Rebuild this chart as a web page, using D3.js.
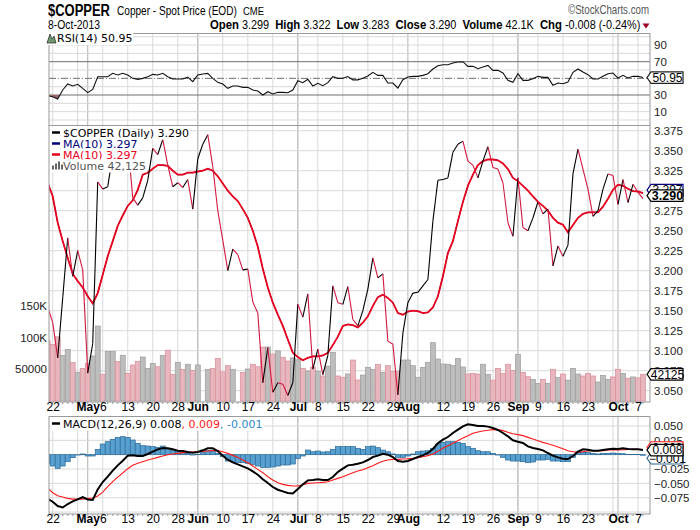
<!DOCTYPE html>
<html>
<head>
<meta charset="utf-8">
<script src="https://cdn.jsdelivr.net/npm/d3@7"></script>
<style>
  body { margin: 0; background: #fff; }
  svg { display: block; }
</style>
</head>
<body>
<div id="wrapper"></div>
<script>
// trading days (first one, 19 Apr, sits just left of the plot)
const dates = [
  "04-19","04-22","04-23","04-24","04-25","04-26","04-29","04-30",
  "05-01","05-02","05-03","05-06","05-07","05-08","05-09","05-10","05-13","05-14","05-15","05-16","05-17",
  "05-20","05-21","05-22","05-23","05-24","05-28","05-29","05-30","05-31",
  "06-03","06-04","06-05","06-06","06-07","06-10","06-11","06-12","06-13","06-14",
  "06-17","06-18","06-19","06-20","06-21","06-24","06-25","06-26","06-27","06-28",
  "07-01","07-02","07-03","07-05","07-08","07-09","07-10","07-11","07-12","07-15","07-16","07-17","07-18","07-19",
  "07-22","07-23","07-24","07-25","07-26","07-29","07-30","07-31",
  "08-01","08-02","08-05","08-06","08-07","08-08","08-09","08-12","08-13","08-14","08-15","08-16",
  "08-19","08-20","08-21","08-22","08-23","08-26","08-27","08-28","08-29","08-30",
  "09-03","09-04","09-05","09-06","09-09","09-10","09-11","09-12","09-13","09-16","09-17","09-18","09-19","09-20",
  "09-23","09-24","09-25","09-26","09-27","09-30",
  "10-01","10-02","10-03","10-04","10-07","10-08"
]

const closes = [
  3.155, 3.135, 3.091, 3.166, 3.241, 3.193, 3.225, 3.201, 3.072, 3.109,
  3.311, 3.302, 3.305, 3.345, 3.335, 3.376, 3.362, 3.291, 3.282, 3.291,
  3.313, 3.353, 3.345, 3.364, 3.332, 3.305, 3.310, 3.304, 3.314, 3.277,
  3.340, 3.358, 3.370, 3.330, 3.275, 3.238, 3.200, 3.227, 3.220, 3.201,
  3.202, 3.161, 3.147, 3.060, 3.104, 3.048, 3.060, 3.058, 3.044, 3.060,
  3.158, 3.142, 3.171, 3.077, 3.102, 3.070, 3.094, 3.181, 3.160, 3.158,
  3.180, 3.139, 3.131, 3.150, 3.177, 3.216, 3.191, 3.196, 3.112, 3.108,
  3.045, 3.122, 3.160, 3.172, 3.173, 3.181, 3.189, 3.262, 3.313, 3.314,
  3.316, 3.348, 3.358, 3.362, 3.337, 3.332, 3.316, 3.337, 3.355, 3.329,
  3.327, 3.310, 3.260, 3.243, 3.316, 3.254, 3.250, 3.266, 3.286, 3.271,
  3.277, 3.206, 3.231, 3.218, 3.232, 3.321, 3.352, 3.327, 3.302, 3.268,
  3.275, 3.302, 3.321, 3.319, 3.283, 3.314, 3.285, 3.308, 3.298, 3.290
]

const ma10 = [
  3.310, 3.293, 3.260, 3.237, 3.216, 3.196, 3.187, 3.179, 3.168, 3.159,
  3.172, 3.195, 3.218, 3.237, 3.256, 3.269, 3.281, 3.288, 3.301, 3.320,
  3.3225, 3.3275, 3.332, 3.332, 3.331, 3.325, 3.320, 3.320, 3.3225, 3.3225,
  3.324, 3.325, 3.3275, 3.325, 3.318, 3.309, 3.300, 3.293, 3.287, 3.277,
  3.266, 3.250, 3.230, 3.2025, 3.179, 3.160, 3.145, 3.131, 3.114, 3.0975,
  3.092, 3.088, 3.091, 3.093, 3.093, 3.094, 3.0975, 3.107, 3.1175, 3.131,
  3.133, 3.132, 3.129, 3.135, 3.143, 3.156, 3.167, 3.170, 3.166, 3.160,
  3.147, 3.145, 3.149, 3.150, 3.1495, 3.147, 3.148, 3.154, 3.168, 3.193,
  3.222, 3.237, 3.262, 3.286, 3.306, 3.320, 3.332, 3.337, 3.339, 3.339,
  3.338, 3.334, 3.327, 3.316, 3.312, 3.306, 3.300, 3.293, 3.286, 3.281,
  3.275, 3.266, 3.260, 3.2575, 3.248, 3.257, 3.266, 3.271, 3.273, 3.273,
  3.273, 3.280, 3.290, 3.301, 3.3075, 3.306, 3.3025, 3.2995, 3.299, 3.297
]

const volumes = [
  95000, 89000, 101000, 72000, 81500, 60500, 44700, 51500, 59400, 71000,
  118000, 42000, 78000, 78000, 62000, 72000, 43700, 56800, 62600, 69300,
  51500, 59400, 54000, 72000, 80000, 42000, 61000, 50000, 58000, 48400,
  56800, 0, 50000, 51500, 67000, 45800, 55700, 50000, 0, 45000,
  50500, 58000, 54000, 85000, 85000, 74000, 79000, 69000, 63000, 68000,
  65000, 51500, 47300, 53400, 47000, 39500, 55000, 76700, 39500, 37400,
  42700, 64600, 33200, 41000, 53000, 50000, 57800, 45300, 55700, 46300,
  46300, 64600, 64600, 55700, 37400, 53000, 61000, 91900, 66200, 58300,
  58000, 56000, 67000, 53600, 42600, 43700, 42600, 58000, 42000, 33000,
  51500, 43700, 58000, 48400, 73500, 45200, 38400, 34200, 28000, 34200,
  28000, 50000, 37400, 42600, 33000, 51500, 42600, 39500, 43700, 39500,
  30000, 40500, 34200, 38000, 50000, 43700, 36000, 38000, 36500, 42125
]

const rsi14 = [
  29, 28, 25.2, 36, 43.2, 40.8, 42.8, 38, 32.8, 36.8,
  52, 52, 52, 56, 54, 56, 54, 50, 48.8, 50,
  52, 54.8, 54, 56, 52, 49.2, 49.2, 49.2, 51.6, 46,
  54, 55.2, 56, 50, 45.2, 43.2, 38, 40.8, 40.8, 39.2,
  39.2, 36, 34.8, 30, 34, 31.2, 33.2, 33.2, 32.8, 36,
  47.2, 44.8, 48.8, 40.8, 44, 41.2, 44.8, 52, 50, 50.2,
  52.2, 48.2, 48.2, 50, 52.8, 57.2, 53.6, 53.6, 44.4, 44.4,
  38.4, 48.4, 51.6, 52.4, 52.4, 53.6, 55.6, 61.2, 65.2, 66.4,
  66.4, 68.4, 69.6, 70, 64.4, 64.4, 61.6, 63.6, 65.6, 59.6,
  59.6, 56.4, 47.6, 45.2, 55.6, 47.6, 47.6, 49.6, 52.4, 51.2,
  51.2, 41.6, 44.4, 43.6, 45.6, 57.2, 61.2, 57.6, 54.4, 49.2,
  49.2, 52.4, 55.6, 56.4, 50.4, 53.6, 50.4, 52.4, 52.4, 50.95
]

const macdLine = [
  -0.077, -0.082, -0.0896, -0.092, -0.086, -0.0814, -0.078, -0.0739, -0.078, -0.079,
  -0.0605, -0.0477, -0.0384, -0.0279, -0.0186, -0.0105, -0.0017, -0.0012, -0.0023, -0.0023,
  0.0012, 0.0052, 0.0093, 0.0116, 0.0111, 0.0093, 0.0070, 0.0064, 0.0047, 0.0035,
  0.0047, 0.0076, 0.0111, 0.0111, 0.0064, -0.0017, -0.0087, -0.0134, -0.0169, -0.0204,
  -0.0239, -0.0291, -0.0349, -0.0430, -0.0494, -0.0564, -0.0611, -0.0640, -0.0669, -0.0675,
  -0.0599, -0.0518, -0.0448, -0.0442, -0.0430, -0.0442, -0.0442, -0.0390, -0.0302, -0.0244,
  -0.0186, -0.0175, -0.0157, -0.0134, -0.0093, -0.0041, -0.0017, 0.0017, 0, -0.0041,
  -0.0111, -0.0122, -0.0111, -0.0076, -0.0041, -0.0012, 0.0029, 0.0099, 0.0198, 0.0262,
  0.0308, 0.0378, 0.0436, 0.0494, 0.0529, 0.0518, 0.0500, 0.0500, 0.0489, 0.0465,
  0.0430, 0.0378, 0.0320, 0.0250, 0.0227, 0.0204, 0.0145, 0.0116, 0.0099, 0.0076,
  0.0029, -0.0017, -0.0047, -0.0070, -0.0076, -0.0023, 0.0052, 0.0093, 0.0087, 0.0070,
  0.0070, 0.0081, 0.0093, 0.0105, 0.0099, 0.0111, 0.0099, 0.0093, 0.0093, 0.008
]

const macdSignal = [
  -0.058, -0.0663, -0.0716, -0.0739, -0.0762, -0.0774, -0.0774, -0.0774, -0.0762, -0.0756,
  -0.0721, -0.0652, -0.0558, -0.0471, -0.0390, -0.0320, -0.0244, -0.0186, -0.0151, -0.0122,
  -0.0093, -0.0070, -0.0047, -0.0023, 0, 0.0012, 0.0023, 0.0035, 0.0041, 0.0047,
  0.0052, 0.0058, 0.0064, 0.0070, 0.0070, 0.0052, 0.0023, -0.0012, -0.0047, -0.0093,
  -0.0140, -0.0198, -0.0256, -0.0314, -0.0384, -0.0442, -0.0489, -0.0518, -0.0535, -0.0547,
  -0.0547, -0.0524, -0.0500, -0.0494, -0.0489, -0.0483, -0.0471, -0.0442, -0.0413, -0.0384,
  -0.0350, -0.0314, -0.0285, -0.0262, -0.0227, -0.0192, -0.0151, -0.0116, -0.0093, -0.0081,
  -0.0081, -0.0076, -0.0070, -0.0064, -0.0052, -0.0035, -0.0017, 0.0012, 0.0058, 0.0111,
  0.0157, 0.0198, 0.0244, 0.0291, 0.0332, 0.0372, 0.0396, 0.0413, 0.0425, 0.0436,
  0.0436, 0.0419, 0.0390, 0.0366, 0.0349, 0.0332, 0.0302, 0.0273, 0.0244, 0.0215,
  0.0192, 0.0163, 0.0134, 0.0105, 0.0070, 0.0052, 0.0041, 0.0052, 0.0064, 0.0070,
  0.0070, 0.0070, 0.0081, 0.0081, 0.0081, 0.0087, 0.0093, 0.0093, 0.0093, 0.009
]

const macdHist = [
  -0.016, -0.0198, -0.0239, -0.0198, -0.0122, -0.0052, -0.0006, 0.0012, -0.0023, -0.0023,
  0.0093, 0.0186, 0.0227, 0.0268, 0.0302, 0.0314, 0.0302, 0.0256, 0.0198, 0.0157,
  0.0151, 0.0140, 0.0128, 0.0151, 0.0111, 0.0070, 0.0064, 0.0035, 0.0023, -0.0006,
  0.0006, 0.0035, 0.0070, 0.0070, 0.0023, -0.0035, -0.0111, -0.0122, -0.0134, -0.0140,
  -0.0151, -0.0169, -0.0198, -0.0221, -0.0221, -0.0215, -0.0198, -0.0180, -0.0180, -0.0163,
  -0.0070, -0.0023, 0.0081, 0.0052, 0.0064, 0.0047, 0.0052, 0.0093, 0.0140, 0.0140,
  0.0140, 0.0140, 0.0111, 0.0093, 0.0140, 0.0151, 0.0122, 0.0081, 0.0052, 0.0012,
  -0.0047, -0.0047, -0.0023, 0.0012, 0.0052, 0.0064, 0.0070, 0.0111, 0.0186, 0.0215,
  0.0227, 0.0227, 0.0215, 0.0198, 0.0140, 0.0111, 0.0070, 0.0052, 0.0052, 0.0023,
  -0.0006, -0.0047, -0.0093, -0.0111, -0.0111, -0.0122, -0.0140, -0.0128, -0.0093, -0.0093,
  -0.0081, -0.0111, -0.0111, -0.0122, -0.0122, -0.0047, 0.0047, 0.0041, 0.0041, 0.0023,
  0.0012, 0.0023, 0.0023, 0.0029, 0.0023, 0.0017, 0.0005, 0.0003, 0.0002, -0.001
]

// x axis labels and grid
const tickDates = ["04-22","05-01","05-06","05-13","05-20","05-28","06-03","06-10","06-17","06-24",
  "07-01","07-08","07-15","07-22","07-29","08-01","08-12","08-19","08-26","09-03","09-09","09-16","09-23","10-01","10-07"]
const tickLabels = ["22","May","6","13","20","28","Jun","10","17","24",
  "Jul","8","15","22","29","Aug","12","19","26","Sep","9","16","23","Oct","7"]
const weekDates = ["04-22","04-29","05-06","05-13","05-20","05-28","06-03","06-10","06-17","06-24",
  "07-01","07-08","07-15","07-22","07-29","08-05","08-12","08-19","08-26","09-03","09-09","09-16","09-23","09-30","10-07"]
const monthDates = ["05-01","06-03","07-01","08-01","09-03","10-01"]

// y axis labels
const priceTicks = [3.050, 3.075, 3.100, 3.125, 3.150, 3.175, 3.200, 3.225, 3.250, 3.275, 3.300, 3.325, 3.350, 3.375]
const rsiTicks = [90, 70, 30, 10]
const rsiGrid = [0, 10, 20, 30, 40, 50, 60, 70, 80, 90, 100]
const volumeTicks = [50000, 100000, 150000]
const volumeLabels = ["50000", "100K", "150K"]
const macdTicks = [0.050, 0.025, 0, -0.025, -0.050, -0.075]
const macdGrid = [0.050, 0.025, 0, -0.025, -0.050, -0.075, -0.100]

drawChart()

function drawChart() {
  const dimensions = {
    width: 700,
    height: 530,
    left: 49,
    right: 650,
    rsi: { top: 33.5, bottom: 125.5 },
    main: { top: 125.5, bottom: 402 },
    macd: { top: 416.5, bottom: 514 },
  }
  const legendFont = "'DejaVu Sans', Verdana, sans-serif"
  const axisFont = "'Liberation Sans', Arial, sans-serif"
  const narrowFont = "'Liberation Sans Narrow', 'Arial Narrow', 'Liberation Sans', sans-serif"

  const wrapper = d3.select("#wrapper")
    .append("svg")
      .attr("width", dimensions.width)
      .attr("height", dimensions.height)
      .style("background", "#fff")

  // scales
  const xScale = d3.scalePoint()
    .domain(dates)
    .range([47.7, 643])
  const rsiScale = d3.scaleLinear().domain([0, 100]).range([120, 36.7])
  const priceScale = d3.scaleLinear().domain([3.05, 3.375]).range([390.7, 130.7])
  const volumeScale = d3.scaleLinear().domain([0, 150000]).range([401.1, 305.7])
  const macdScale = d3.scaleLinear().domain([-0.075, 0.05]).range([497.7, 426])

  const defs = wrapper.append("defs")
  const panels = ["rsi", "main", "macd"]
  panels.forEach(p => {
    defs.append("clipPath").attr("id", "clip-" + p)
      .append("rect")
        .attr("x", dimensions.left)
        .attr("y", dimensions[p].top)
        .attr("width", dimensions.right - dimensions.left)
        .attr("height", dimensions[p].bottom - dimensions[p].top)
  })
  defs.append("clipPath").attr("id", "clip-rsi-low")
    .append("rect")
      .attr("x", dimensions.left).attr("y", rsiScale(30))
      .attr("width", dimensions.right - dimensions.left)
      .attr("height", dimensions.rsi.bottom - rsiScale(30))
  defs.append("clipPath").attr("id", "clip-rsi-high")
    .append("rect")
      .attr("x", dimensions.left).attr("y", dimensions.rsi.top)
      .attr("width", dimensions.right - dimensions.left)
      .attr("height", rsiScale(70) - dimensions.rsi.top)

  // header, squeezed horizontally to the narrow face of the original
  const header = wrapper.append("g").style("font-family", narrowFont)
  function headText(x, y, size, weight, width, txt) {
    const g = header.append("g")
    const t = g.append("text")
      .attr("font-size", size).attr("font-weight", weight)
    if (Array.isArray(txt)) {
      txt.forEach(q => {
        t.append("tspan").attr("font-weight", "bold").attr("font-size", size + 0.5).text(q[0])
        t.append("tspan").attr("xml:space", "preserve").text(q[1])
      })
    } else {
      t.text(txt)
    }
    const natural = t.node().getComputedTextLength()
    g.attr("transform", `translate(${x}, ${y}) scale(${width / natural}, 1)`)
    return t
  }
  headText(48, 16, 17, "bold", 62, "$COPPER")
  headText(117, 15, 12.5, "normal", 120, "Copper - Spot Price (EOD)")
  headText(243, 15, 10.5, "normal", 21, "CME")
  headText(568, 14, 12, "normal", 81, "©StockCharts.com").attr("fill", "#555")
  headText(48, 29, 12.5, "normal", 52, "8-Oct-2013")
  const quoteParts = [["Open", " 3.299  "], ["High", " 3.322  "], ["Low", " 3.283  "],
    ["Close", " 3.290  "], ["Volume", " 42.1K  "], ["Chg", " -0.008 (-0.24%)"]]
  headText(210, 29, 12.5, "normal", 431, quoteParts)
  wrapper.append("path")
    .attr("d", "M642.5,23.5 L649.5,23.5 L646,28.5 Z")
    .attr("fill", "#a00028")

  // grids
  panels.forEach(p => {
    const g = wrapper.append("g").attr("clip-path", `url(#clip-${p})`)
    g.selectAll(".week")
      .data(weekDates)
      .enter().append("line")
        .attr("x1", d => xScale(d)).attr("x2", d => xScale(d))
        .attr("y1", dimensions[p].top).attr("y2", dimensions[p].bottom)
        .attr("stroke", "#d9d9d9")
    g.selectAll(".month")
      .data(monthDates)
      .enter().append("line")
        .attr("x1", d => xScale(d)).attr("x2", d => xScale(d))
        .attr("y1", dimensions[p].top).attr("y2", dimensions[p].bottom)
        .attr("stroke", "#b3b3b3")
  })
  wrapper.append("g").selectAll("line")
    .data(rsiGrid)
    .enter().append("line")
      .attr("x1", dimensions.left).attr("x2", dimensions.right)
      .attr("y1", d => rsiScale(d)).attr("y2", d => rsiScale(d))
      .attr("stroke", d => (d === 70 || d === 30) ? "#6e6e6e" : "#d9d9d9")
      .attr("stroke-dasharray", d => d === 50 ? "7,2,1,2" : null)
      .filter(d => d === 50).attr("stroke", "#6e6e6e")
  wrapper.append("g").selectAll("line")
    .data(priceTicks)
    .enter().append("line")
      .attr("x1", dimensions.left).attr("x2", dimensions.right)
      .attr("y1", d => priceScale(d)).attr("y2", d => priceScale(d))
      .attr("stroke", "#d9d9d9")
  wrapper.append("g").selectAll("line")
    .data(macdGrid)
    .enter().append("line")
      .attr("x1", dimensions.left).attr("x2", dimensions.right)
      .attr("y1", d => macdScale(d)).attr("y2", d => macdScale(d))
      .attr("stroke", "#d9d9d9")

  // volume bars
  const isUp = i => i === 0 ? false : closes[i] >= closes[i - 1]
  wrapper.append("g")
    .attr("clip-path", "url(#clip-main)")
    .selectAll("rect")
    .data(volumes)
    .enter().append("rect")
      .attr("x", (d, i) => xScale(dates[i]) - 2.5)
      .attr("width", 5)
      .attr("y", d => volumeScale(d))
      .attr("height", d => volumeScale(0) - volumeScale(d))
      .attr("fill", (d, i) => isUp(i) ? "#bdbdbd" : "#e8b6bd")
      .attr("stroke", (d, i) => isUp(i) ? "#9c9c9c" : "#d98c99")
      .attr("stroke-width", 0.7)
      .attr("opacity", d => d > 0 ? 1 : 0)

  // moving averages (the blue one sits right under the red one)
  const maLine = d3.line()
    .x((d, i) => xScale(dates[i]))
    .y(d => priceScale(d))
  const mainG = wrapper.append("g").attr("clip-path", "url(#clip-main)")
  mainG.append("path").datum(ma10)
    .attr("d", maLine).attr("fill", "none")
    .attr("stroke", "#00007a").attr("stroke-width", 1)
  mainG.append("path").datum(ma10)
    .attr("d", maLine).attr("fill", "none")
    .attr("stroke", "#e8001c").attr("stroke-width", 1.8)

  // price line, black when rising and red when falling
  const segments = d3.pairs(closes.map((c, i) => ({ c, i })))
  mainG.selectAll(".seg")
    .data(segments)
    .enter().append("line")
      .attr("x1", d => xScale(dates[d[0].i]))
      .attr("y1", d => priceScale(d[0].c))
      .attr("x2", d => xScale(dates[d[1].i]))
      .attr("y2", d => priceScale(d[1].c))
      .attr("stroke", d => d[1].c >= d[0].c ? "#000" : "#d3183f")
      .attr("stroke-width", 1.1)

  // RSI
  const rsiG = wrapper.append("g").attr("clip-path", "url(#clip-rsi)")
  const rsiArea30 = d3.area()
    .x((d, i) => xScale(dates[i]))
    .y0(rsiScale(30))
    .y1(d => rsiScale(d))
  const rsiArea70 = d3.area()
    .x((d, i) => xScale(dates[i]))
    .y0(rsiScale(70))
    .y1(d => rsiScale(d))
  rsiG.append("g").attr("clip-path", "url(#clip-rsi-low)")
    .append("path").datum(rsi14)
      .attr("d", rsiArea30).attr("fill", "#9c6868")
  rsiG.append("g").attr("clip-path", "url(#clip-rsi-high)")
    .append("path").datum(rsi14)
      .attr("d", rsiArea70).attr("fill", "#6f9a6f")
  rsiG.append("path").datum(rsi14)
    .attr("d", d3.line().x((d, i) => xScale(dates[i])).y(d => rsiScale(d)))
    .attr("fill", "none").attr("stroke", "#111").attr("stroke-width", 1.1)

  // MACD
  const macdG = wrapper.append("g").attr("clip-path", "url(#clip-macd)")
  macdG.selectAll("rect")
    .data(macdHist)
    .enter().append("rect")
      .attr("x", (d, i) => xScale(dates[i]) - 2.5)
      .attr("width", 5)
      .attr("y", d => macdScale(Math.max(0, d)))
      .attr("height", d => Math.abs(macdScale(d) - macdScale(0)))
      .attr("fill", "#57a0d0")
      .attr("stroke", "#2c6a98")
      .attr("stroke-width", 0.7)
  macdG.append("path").datum(macdSignal)
    .attr("d", d3.line().x((d, i) => xScale(dates[i])).y(d => macdScale(d)))
    .attr("fill", "none").attr("stroke", "#ff1a1a").attr("stroke-width", 1.1)
  macdG.append("path").datum(macdLine)
    .attr("d", d3.line().x((d, i) => xScale(dates[i])).y(d => macdScale(d)))
    .attr("fill", "none").attr("stroke", "#000").attr("stroke-width", 2)

  // panel borders
  panels.forEach(p => {
    wrapper.append("rect")
      .attr("x", dimensions.left).attr("y", dimensions[p].top)
      .attr("width", dimensions.right - dimensions.left)
      .attr("height", dimensions[p].bottom - dimensions[p].top)
      .attr("fill", "none").attr("stroke", "#9a9a9a")
  })

  // small day ticks under the panels
  ;["main", "macd"].forEach(p => {
    wrapper.append("g").selectAll("line")
      .data(dates.slice(1))
      .enter().append("line")
        .attr("x1", d => xScale(d)).attr("x2", d => xScale(d))
        .attr("y1", dimensions[p].bottom).attr("y2", dimensions[p].bottom + 2)
        .attr("stroke", "#9a9a9a")
  })

  // x axes
  ;[{ p: "main", y: 414.5 }, { p: "macd", y: 526.5 }].forEach(a => {
    const axis = wrapper.append("g")
      .attr("transform", `translate(0, ${a.y - 10})`)
      .call(d3.axisBottom(xScale)
        .tickValues(tickDates)
        .tickFormat((d, i) => tickLabels[i])
        .tickSize(0)
        .tickPadding(0))
    axis.select(".domain").remove()
    axis.selectAll(".tick text")
      .attr("dy", "0.55em")
      .attr("font-size", 12)
      .attr("font-family", axisFont)
      .attr("fill", "#000")
      .attr("font-weight", (d, i) => /[A-Za-z]/.test(tickLabels[i]) ? "bold" : "normal")
  })

  // right axes
  const rightAxis = (scale, values, fmt) => {
    const axis = wrapper.append("g")
      .attr("transform", `translate(${dimensions.right + 3}, 0)`)
      .call(d3.axisRight(scale).tickValues(values).tickFormat(fmt).tickSize(0).tickPadding(1))
    axis.select(".domain").remove()
    axis.selectAll(".tick text")
      .attr("font-size", 11.5)
      .attr("font-family", axisFont)
      .attr("fill", "#222")
  }
  rightAxis(priceScale, priceTicks, d3.format(".3f"))
  rightAxis(rsiScale, rsiTicks, d3.format("d"))
  rightAxis(macdScale, macdTicks, d3.format(".3f"))

  // volume labels on the left
  const volAxis = wrapper.append("g")
    .attr("transform", `translate(${dimensions.left - 1}, 0)`)
    .call(d3.axisLeft(volumeScale).tickValues(volumeTicks)
      .tickFormat((d, i) => volumeLabels[i]).tickSize(0).tickPadding(1))
  volAxis.select(".domain").remove()
  volAxis.selectAll(".tick text")
    .attr("font-size", 11.5)
    .attr("font-family", axisFont)
    .attr("fill", "#222")

  // value tags on the right edge
  function tag(y, label, stroke, bold) {
    const h = 11.5
    const g = wrapper.append("g")
    g.append("path")
      .attr("d", `M${dimensions.right - 3},${y} L${dimensions.right + 1},${y - h / 2} L683,${y - h / 2} L683,${y + h / 2} L${dimensions.right + 1},${y + h / 2} Z`)
      .attr("fill", "#fff").attr("stroke", stroke).attr("stroke-width", 1.2)
    g.append("text")
      .attr("x", 667.5).attr("y", y + 4.3)
      .attr("text-anchor", "middle")
      .attr("font-family", axisFont)
      .attr("font-size", bold ? 12.5 : 12)
      .attr("font-weight", bold ? "bold" : "normal")
      .attr("fill", "#000")
      .text(label)
  }
  const last = dates.length - 1
  tag(rsiScale(rsi14[last]), d3.format(".2f")(rsi14[last]), "#222", false)
  tag(priceScale(ma10[last]) - 3, d3.format(".3f")(ma10[last]), "#00007a", false)
  tag(priceScale(closes[last]) - 3, d3.format(".3f")(closes[last]), "#000", true)
  tag(volumeScale(volumes[last]), volumes[last], "#000", false)
  tag(macdScale(macdSignal[last]) - 2, d3.format(".3f")(macdSignal[last]), "#ff1a1a", false)
  tag(macdScale(macdHist[last]) + 3, d3.format(".3f")(macdHist[last]), "#2c6a98", false)
  tag(macdScale(macdLine[last]), d3.format(".3f")(macdLine[last]), "#000", false)

  // legends with white backing
  function legendRow(x, y, parts, icon) {
    const g = wrapper.append("g")
    const bg = g.append("rect").attr("fill", "#fff")
    const t = g.append("text")
      .attr("x", x + 12).attr("y", y + 4)
      .attr("font-family", legendFont)
      .attr("font-size", 11)
    parts.forEach(p => t.append("tspan").attr("fill", p[1]).text(p[0]))
    const box = t.node().getBBox()
    bg.attr("x", x - 1).attr("y", box.y)
      .attr("width", box.x + box.width - x + 2).attr("height", box.height)
    if (icon === "dash") {
      g.append("line").attr("x1", x + 1).attr("x2", x + 9)
        .attr("y1", y).attr("y2", y)
        .attr("stroke", parts[0][1]).attr("stroke-width", 2.5)
    } else if (icon === "bars") {
      ;[[0, 4], [3, 6], [6, 8], [9, 5]].forEach(b => {
        g.append("rect").attr("x", x + 1 + b[0]).attr("y", y + 4 - b[1])
          .attr("width", 2).attr("height", b[1]).attr("fill", "#666")
      })
    } else if (icon === "rsi") {
      g.append("path")
        .attr("d", `M${x + 2},${y + 5} L${x + 5},${y - 4} L${x + 7},${y + 1} L${x + 9},${y - 2} L${x + 11},${y + 5} Z`)
        .attr("fill", "#6f9a6f").attr("stroke", "#333").attr("stroke-width", 0.8)
    }
  }
  legendRow(51, 132.5, [["$COPPER (Daily) 3.290", "#000"]], "dash")
  legendRow(51, 143.5, [["MA(10) 3.297", "#00007a"]], "dash")
  legendRow(51, 154.5, [["MA(10) 3.297", "#e8001c"]], "dash")
  legendRow(51, 165.5, [["Volume 42,125", "#555"]], "bars")
  legendRow(45, 38, [["RSI(14) 50.95", "#000"]], "rsi")
  legendRow(51, 423.5, [["MACD(12,26,9) 0.008", "#000"], [", 0.009", "#ff1a1a"], [", -0.001", "#2c8ac0"]], "dash")
}
</script>
</body>
</html>
